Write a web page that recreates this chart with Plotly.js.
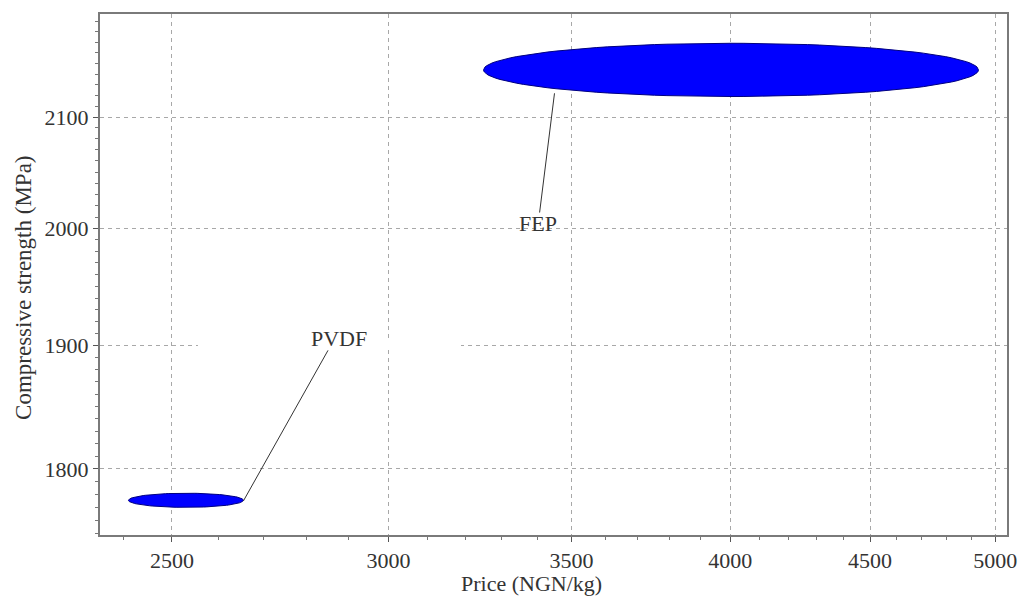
<!DOCTYPE html>
<html>
<head>
<meta charset="utf-8">
<script src="https://cdn.plot.ly/plotly-3.0.1.min.js"></script>
<style>html,body{margin:0;padding:0;background:#fff;}#chart{width:1018px;height:596px;}</style>
</head>
<body>
<div id="chart"></div>
<script>
// Materials and their property ranges
const materials = ["PVDF", "FEP"];
const priceLow = [2410, 3250];      // NGN/kg
const priceHigh = [2655, 4930];
const strengthLow = [1770, 2119];   // MPa
const strengthHigh = [1781, 2169];
// Label positions (data coordinates) and leader line anchors
const labelX = [2877, 3403];
const labelY = [1906, 2004];
const leaderFromX = [2655, 3450];
const leaderFromY = [1775, 2122];
const leaderToX = [2851, 3407];
const leaderToY = [1896, 2014];

const xTicks = [2500, 3000, 3500, 4000, 4500, 5000];
const yTicks = [1800, 1900, 2000, 2100];
const xTitle = 'Price (NGN/kg)';
const yTitle = 'Compressive strength (MPa)';

const L = Math.log10;
const traces = [];
// ellipses in log space
for (let i = 0; i < materials.length; i++) {
  const cx = (L(priceLow[i]) + L(priceHigh[i])) / 2;
  const rx = (L(priceHigh[i]) - L(priceLow[i])) / 2;
  const cy = (L(strengthLow[i]) + L(strengthHigh[i])) / 2;
  const ry = (L(strengthHigh[i]) - L(strengthLow[i])) / 2;
  const xs = [], ys = [];
  for (let k = 0; k <= 120; k++) {
    const t = 2 * Math.PI * k / 120;
    xs.push(Math.pow(10, cx + rx * Math.cos(t)));
    ys.push(Math.pow(10, cy + ry * Math.sin(t)));
  }
  traces.push({x: xs, y: ys, mode: 'lines', fill: 'toself', fillcolor: '#0000ff',
    line: {color: '#000080', width: 1}, name: materials[i], hoverinfo: 'name', showlegend: false});
}
// leader lines
for (let i = 0; i < materials.length; i++) {
  traces.push({x: [leaderFromX[i], leaderToX[i]], y: [leaderFromY[i], leaderToY[i]],
    mode: 'lines', line: {color: '#333', width: 1}, showlegend: false, hoverinfo: 'skip'});
}

const fontFam = '"Liberation Serif", "Times New Roman", serif';
const annotations = materials.map((m, i) => ({
  x: L(labelX[i]), y: L(labelY[i]), xref: 'x', yref: 'y', text: m, showarrow: false,
  font: {family: fontFam, size: 22, color: '#333'}
}));
annotations.push({
  x: 0.476, y: -0.093, xref: 'paper', yref: 'paper', text: xTitle, showarrow: false,
  xanchor: 'center', yanchor: 'middle', font: {family: fontFam, size: 22, color: '#333'}
});
annotations.push({
  x: -0.085, y: 0.474, xref: 'paper', yref: 'paper', text: yTitle, showarrow: false,
  textangle: -90, xanchor: 'center', yanchor: 'middle', font: {family: fontFam, size: 23, color: '#333'}
});

const minorX = [];
for (let v = 2400; v <= 5000; v += 100) minorX.push(v);
const minorY = [];
for (let v = 1750; v <= 2190; v += 10) minorY.push(v);

const axisCommon = {
  type: 'log', tickmode: 'array',
  showline: true, linecolor: '#7a7a7a', linewidth: 2, mirror: true,
  ticks: 'outside', ticklen: 5, tickcolor: '#555', tickwidth: 1,
  showgrid: true, gridcolor: '#a8a8a8', griddash: '4px,4px', gridwidth: 1,
  zeroline: false, ticklabeloverflow: 'allow',
  tickfont: {family: fontFam, size: 22, color: '#333'}
};

const layout = {
  width: 1018, height: 596,
  margin: {l: 100, r: 11, t: 14, b: 61},
  paper_bgcolor: '#fff', plot_bgcolor: '#fff',
  font: {family: fontFam, size: 22, color: '#333'},
  xaxis: Object.assign({}, axisCommon, {
    range: [L(2353), L(5050)],
    tickvals: xTicks, ticktext: xTicks.map(String),
    minor: {tickmode: 'array', tickvals: minorX, ticks: 'outside', ticklen: 3, tickcolor: '#777', showgrid: false}
  }),
  yaxis: Object.assign({}, axisCommon, {
    range: [L(1748.7), L(2197)],
    tickvals: yTicks, ticktext: yTicks.map(String),
    minor: {tickmode: 'array', tickvals: minorY, ticks: 'outside', ticklen: 3, tickcolor: '#777', showgrid: false}
  }),
  shapes: [{
    type: 'rect', xref: 'paper', yref: 'paper', layer: 'above',
    x0: 0.108, x1: 0.398, y0: 0.36, y1: 0.375,
    fillcolor: '#fff', line: {width: 0}
  }],
  annotations: annotations,
  showlegend: false
};

Plotly.newPlot('chart', traces, layout, {displayModeBar: false, staticPlot: true});
</script>
</body>
</html>
